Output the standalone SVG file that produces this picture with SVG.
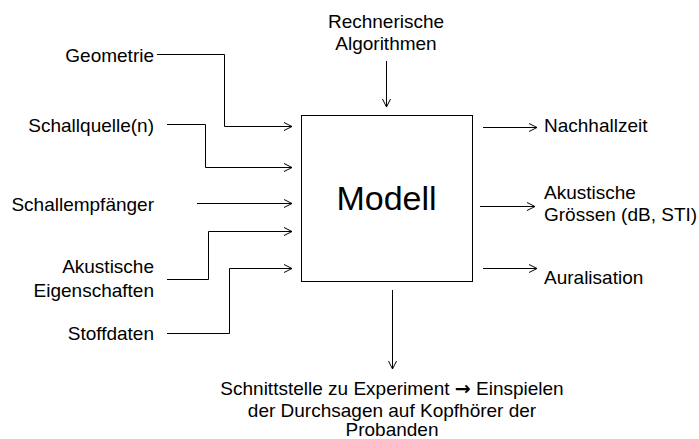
<svg xmlns="http://www.w3.org/2000/svg" width="699" height="439" viewBox="0 0 699 439">
<style>
text{font-family:"Liberation Sans",Arial,sans-serif;font-size:19px;fill:#000}
.l{text-anchor:end}
.m{text-anchor:middle}
.c{fill:none;stroke:#000;stroke-width:1}
.arr{font-family:"DejaVu Sans",sans-serif;font-weight:bold}
</style>
<defs>
<marker id="a" markerWidth="10" markerHeight="10" refX="9" refY="5" orient="auto" markerUnits="userSpaceOnUse">
<path d="M1,1 L9,5 L1,9" fill="none" stroke="#000" stroke-width="1"/>
</marker>
</defs>
<rect width="699" height="439" fill="#fff"/>
<g id="modell">
<rect x="301.5" y="115.5" width="171" height="166" fill="#fff" stroke="#000" stroke-width="1"/>
<text x="386.5" y="210" class="m" style="font-size:34px">Modell</text>
</g>
<g id="geometrie"><text x="154" y="61.5" class="l">Geometrie</text></g>
<g id="schallquelle"><text x="154" y="131.5" class="l">Schallquelle(n)</text></g>
<g id="schallempfaenger"><text x="154" y="210.5" class="l">Schallempfänger</text></g>
<g id="akustische-eigenschaften"><text x="154" y="272.5" class="l">Akustische</text><text x="154" y="296.5" class="l">Eigenschaften</text></g>
<g id="stoffdaten"><text x="154" y="339.5" class="l">Stoffdaten</text></g>
<g id="algorithmen"><text x="386" y="27.5" class="m">Rechnerische</text><text x="386" y="49.5" class="m">Algorithmen</text></g>
<g id="nachhallzeit"><text x="544" y="132">Nachhallzeit</text></g>
<g id="akustische-groessen"><text x="544" y="199">Akustische</text><text x="544" y="220.5">Grössen (dB, STI)</text></g>
<g id="auralisation"><text x="544" y="284">Auralisation</text></g>
<g id="schnittstelle"><text x="392" y="395" class="m">Schnittstelle zu Experiment <tspan class="arr">→</tspan> Einspielen</text><text x="392" y="416.5" class="m">der Durchsagen auf Kopfhörer der</text><text x="392" y="435.5" class="m">Probanden</text></g>
<g id="connectors">
<path class="c" d="M157,54.5 H224.5 V126.5 H292" marker-end="url(#a)"/>
<path class="c" d="M167,124.5 H205.5 V167.5 H292" marker-end="url(#a)"/>
<path class="c" d="M197,203.5 H292" marker-end="url(#a)"/>
<path class="c" d="M167,279.5 H208.5 V231.5 H292" marker-end="url(#a)"/>
<path class="c" d="M167,333.5 H229.5 V268.5 H292" marker-end="url(#a)"/>
<path class="c" d="M386.5,61 V107" marker-end="url(#a)"/>
<path class="c" d="M392.5,290 V369" marker-end="url(#a)"/>
<path class="c" d="M483,127.5 H537" marker-end="url(#a)"/>
<path class="c" d="M480,206.5 H535" marker-end="url(#a)"/>
<path class="c" d="M483,268.5 H537" marker-end="url(#a)"/>
</g>
</svg>
